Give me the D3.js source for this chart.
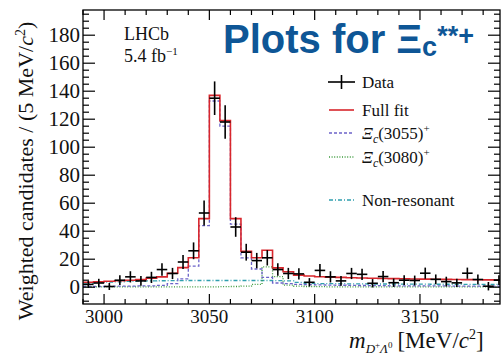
<!DOCTYPE html>
<html>
<head>
<meta charset="utf-8">
<script src="https://cdn.jsdelivr.net/npm/d3@7"></script>
<style>
  body { margin: 0; background: #fff; }
  svg { display: block; }
  text { font-family: "Liberation Serif", "Times New Roman", serif; fill: #111; }
</style>
</head>
<body>
<svg id="chart" width="502" height="358"></svg>
<script>
// bins: 5 MeV wide starting at 2990
const binLow = 2990;
const binWidth = 5;

const dataValues = [2, 3, 0.5, 5, 7.4, 4.5, 7, 12.6, 9.8, 18, 26, 53, 135, 118, 43, 25, 19, 21, 12.6, 9.8,
  9.5, 3.5, 12, 7.4, 4.5, 9.8, 9.2, 2.8, 7.6, 3.2, 5, 4.8, 10, 5.6, 4, 3.1, 10, 5.5, 0.7, 5];
const dataErrors = [2.5, 3, 2.5, 3.5, 4, 3.5, 4, 4.5, 4, 5, 6, 9, 12, 12, 7, 6, 5.5, 5.5, 4.5, 4,
  4, 3, 4.5, 4, 3.5, 4, 4, 3, 4, 3, 3.5, 3.5, 4, 3.5, 3.5, 3, 4, 3.5, 3, 3.5];
const fullFit = [3.5, 3.8, 4.2, 4.6, 5, 5.4, 6.5, 7.4, 10, 14, 21, 49, 137, 119, 49, 25.7, 21, 26.4, 13.8, 11,
  8.6, 8, 7.5, 7.2, 7, 6.8, 6.6, 6.4, 6.2, 6.1, 6, 5.9, 5.8, 5.7, 5.6, 5.5, 5.4, 5.3, 5.2, 5.1];
const xi3055 = [0.5, 0.5, 0.6, 0.7, 0.8, 0.9, 1, 1.3, 2.5, 6, 15, 44, 133, 115, 45, 21, 13, 7, 3, 2.5,
  2, 1.8, 1.6, 1.5, 1.4, 1.3, 1.2, 1.1, 1.1, 1, 1, 1, 0.9, 0.9, 0.9, 0.8, 0.8, 0.8, 0.8, 0.7];
const xi3080 = [0.2, 0.2, 0.2, 0.2, 0.2, 0.2, 0.2, 0.2, 0.2, 0.2, 0.2, 0.3, 0.3, 0.4, 0.5, 0.8, 2, 14.5, 7.5, 1.5,
  0.8, 0.5, 0.4, 0.3, 0.3, 0.3, 0.3, 0.3, 0.3, 0.3, 0.3, 0.3, 0.3, 0.3, 0.3, 0.3, 0.3, 0.3, 0.3, 0.3];
const nonRes = [3, 3.3, 3.6, 3.9, 4.1, 4.3, 4.5, 4.6, 4.7, 4.7, 4.8, 4.8, 4.8, 4.8, 4.8, 4.8, 4.8, 4.8, 4.7, 4.5,
  3.5, 2.8, 2.6, 2.5, 2.5, 2.4, 2.4, 2.3, 2.3, 2.3, 2.2, 2.2, 2.2, 2.1, 2.1, 2.1, 2, 2, 2, 2];

const xMajorTicks = [3000, 3050, 3100, 3150];
const yMajorTicks = [0, 20, 40, 60, 80, 100, 120, 140, 160, 180];

const legendItems = [
  { key: "data", label: "Data" },
  { key: "fit", label: "Full fit" },
  { key: "x3055", label: "3055" },
  { key: "x3080", label: "3080" },
  { key: "nonres", label: "Non-resonant" }
];

const styles = {
  fit: { color: "#d8262c", dash: null, width: 1.6 },
  x3055: { color: "#6c63c9", dash: "3,2", width: 1.3 },
  x3080: { color: "#3c9a3c", dash: "1,1.6", width: 1.3 },
  nonres: { color: "#2f9fae", dash: "4,2,1,2", width: 1.3 }
};

const PL = 83, PR = 500, PT = 10, PB = 304;

const x = d3.scaleLinear().domain([2990, 3188]).range([PL, PR]);
const y = d3.scaleLinear().domain([-12, 198]).range([PB, PT]);

const svg = d3.select("#chart");

svg.append("defs").append("clipPath").attr("id", "frame")
  .append("rect").attr("x", PL).attr("y", PT).attr("width", PR - PL).attr("height", PB - PT);

const plot = svg.append("g").attr("clip-path", "url(#frame)");

// step histogram from bin edges
function stepPoints(values) {
  const pts = [];
  values.forEach((v, i) => {
    const lo = binLow + i * binWidth;
    pts.push([lo, v], [lo + binWidth, v]);
  });
  return pts;
}

const stepLine = d3.line().x(d => x(d[0])).y(d => y(d[1]));

const series = [
  { key: "nonres", values: nonRes },
  { key: "x3080", values: xi3080 },
  { key: "x3055", values: xi3055 },
  { key: "fit", values: fullFit }
];

series.forEach(s => {
  const st = styles[s.key];
  plot.append("path")
    .attr("d", stepLine(stepPoints(s.values)))
    .attr("fill", "none")
    .attr("stroke", st.color)
    .attr("stroke-width", st.width)
    .attr("stroke-dasharray", st.dash);
});

// data points with error bars
const pts = plot.append("g").attr("stroke", "#000").attr("stroke-width", 1.6);
dataValues.forEach((v, i) => {
  const c = binLow + (i + 0.5) * binWidth;
  pts.append("line")
    .attr("x1", x(c - binWidth / 2)).attr("x2", x(c + binWidth / 2))
    .attr("y1", y(v)).attr("y2", y(v));
  pts.append("line")
    .attr("x1", x(c)).attr("x2", x(c))
    .attr("y1", y(v - dataErrors[i])).attr("y2", y(v + dataErrors[i]));
});

// frame
svg.append("rect")
  .attr("x", PL).attr("y", PT).attr("width", PR - PL).attr("height", PB - PT)
  .attr("fill", "none").attr("stroke", "#000").attr("stroke-width", 1.3);

// ticks
const ticks = svg.append("g").attr("stroke", "#000").attr("stroke-width", 1.2);
const xMinor = d3.range(2990, 3190, 10).filter(t => !xMajorTicks.includes(t));
const yMinor = d3.range(-10, 198, 5).filter(t => !yMajorTicks.includes(t));

function xTick(t, len) {
  ticks.append("line").attr("x1", x(t)).attr("x2", x(t)).attr("y1", PB).attr("y2", PB - len);
  ticks.append("line").attr("x1", x(t)).attr("x2", x(t)).attr("y1", PT).attr("y2", PT + len);
}
function yTick(t, len) {
  ticks.append("line").attr("x1", PL).attr("x2", PL + len).attr("y1", y(t)).attr("y2", y(t));
  ticks.append("line").attr("x1", PR).attr("x2", PR - len).attr("y1", y(t)).attr("y2", y(t));
}
xMajorTicks.forEach(t => xTick(t, 10));
xMinor.forEach(t => xTick(t, 5));
yMajorTicks.forEach(t => yTick(t, 12));
yMinor.forEach(t => yTick(t, 6));

// tick labels
svg.append("g").selectAll("text").data(yMajorTicks).join("text")
  .attr("x", 80).attr("y", d => y(d) + 7)
  .attr("text-anchor", "end").attr("font-size", 21)
  .text(d => d);

svg.append("g").selectAll("text").data(xMajorTicks).join("text")
  .attr("x", d => x(d)).attr("y", 323)
  .attr("text-anchor", "middle").attr("font-size", 19)
  .text(d => d);

// axis titles
const yTitle = svg.append("text")
  .attr("transform", "translate(33,171) rotate(-90)")
  .attr("text-anchor", "middle").attr("font-size", 22);
yTitle.append("tspan").text("Weighted candidates / (5 MeV/");
yTitle.append("tspan").attr("font-style", "italic").text("c");
yTitle.append("tspan").attr("font-size", 14).attr("dy", -8).text("2");
yTitle.append("tspan").attr("dy", 8).text(")");

const xTitle = svg.append("text").attr("x", 349).attr("y", 348).attr("font-size", 23);
xTitle.append("tspan").attr("font-style", "italic").text("m");
xTitle.append("tspan").attr("font-size", 13).attr("font-style", "italic").attr("dy", 5).text("D");
xTitle.append("tspan").attr("font-size", 9).attr("dy", -5).text("+");
xTitle.append("tspan").attr("font-size", 13).attr("font-style", "italic").attr("dy", 5).text("Λ");
xTitle.append("tspan").attr("font-size", 9).attr("dy", -5).text("0");
xTitle.append("tspan").attr("dx", 5).text("[MeV/");
xTitle.append("tspan").attr("font-style", "italic").text("c");
xTitle.append("tspan").attr("font-size", 14).attr("dy", -9).text("2");
xTitle.append("tspan").attr("dy", 9).text("]");

// LHCb label
svg.append("text").attr("x", 124).attr("y", 40).attr("font-size", 18).text("LHCb");
const lumi = svg.append("text").attr("x", 124).attr("y", 62).attr("font-size", 18);
lumi.append("tspan").text("5.4 fb");
lumi.append("tspan").attr("font-size", 11).attr("dy", -7).text("−1");

// legend
const legendY = { data: 82, fit: 110, x3055: 133, x3080: 157, nonres: 200 };
const legend = svg.append("g");
legendItems.forEach(item => {
  const ly = legendY[item.key];
  if (item.key === "data") {
    legend.append("line").attr("x1", 328).attr("x2", 355).attr("y1", ly).attr("y2", ly)
      .attr("stroke", "#000").attr("stroke-width", 1.6);
    legend.append("line").attr("x1", 341.5).attr("x2", 341.5).attr("y1", ly - 7).attr("y2", ly + 7)
      .attr("stroke", "#000").attr("stroke-width", 1.6);
  } else {
    const st = styles[item.key];
    legend.append("line").attr("x1", 329).attr("x2", 354).attr("y1", ly).attr("y2", ly)
      .attr("stroke", st.color).attr("stroke-width", st.width).attr("stroke-dasharray", st.dash);
  }
  const t = legend.append("text").attr("x", 362).attr("y", ly + 6).attr("font-size", 17);
  if (item.key === "x3055" || item.key === "x3080") {
    t.append("tspan").attr("font-style", "italic").text("Ξ");
    t.append("tspan").attr("font-style", "italic").attr("font-size", 12).attr("dy", 4).text("c");
    t.append("tspan").attr("dy", -4).text("(" + item.label + ")");
    t.append("tspan").attr("font-size", 11).attr("dy", -7).text("+");
  } else {
    t.text(item.label);
  }
});

// overlay title
const title = svg.append("text").attr("x", 223).attr("y", 53)
  .style("font-family", "'Liberation Sans', Arial, sans-serif")
  .style("fill", "#0e5696").attr("font-weight", "bold").attr("font-size", 40);
title.append("tspan").text("Plots for Ξ");
title.append("tspan").attr("font-size", 27).attr("dy", 3).text("c");
title.append("tspan").attr("font-size", 27).attr("dy", -11).text("**+");
</script>
</body>
</html>
